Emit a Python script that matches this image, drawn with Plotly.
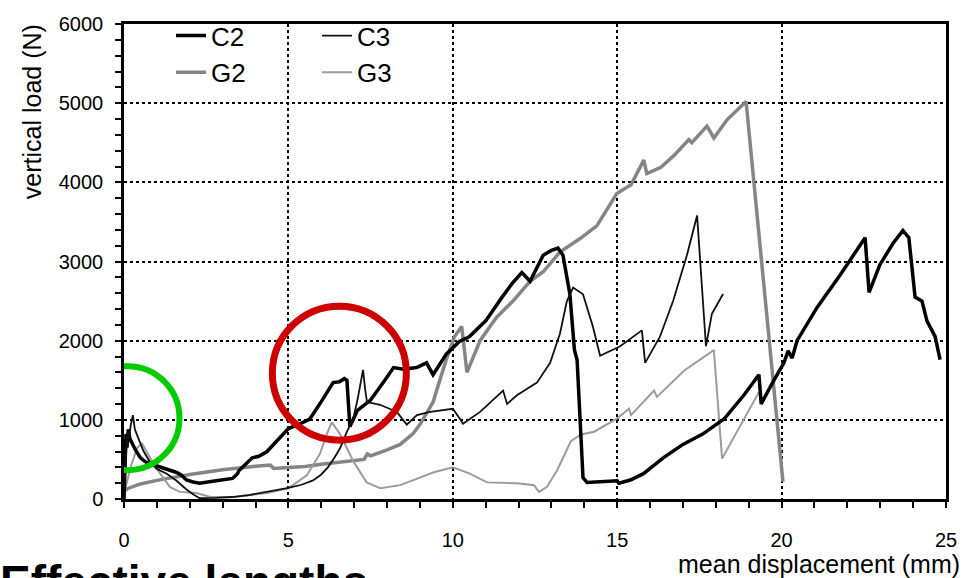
import plotly.graph_objects as go

# Load-displacement curves (mean displacement in mm, vertical load in N)
c2_x = [0.00, 0.03, 0.06, 0.09, 0.13, 0.18, 0.25, 0.35, 0.5, 0.65, 0.8, 1.0, 1.1, 1.3, 1.6, 1.75,
        1.9, 2.1, 2.3, 2.8, 3.3, 3.45, 3.5, 3.9, 4.1, 4.35, 4.7, 5.0, 5.3, 5.65, 6.0, 6.36, 6.55,
        6.7, 6.78, 6.87, 7.1, 7.5, 7.9, 8.2, 8.5, 8.9, 9.2, 9.4, 9.8, 10.2, 10.5, 11.0, 11.5, 11.8,
        12.1, 12.35, 12.75, 13.0, 13.2, 13.35, 13.56, 13.7, 13.78, 13.96, 14.08, 14.5, 15.0, 15.05,
        15.4, 15.8, 16.4, 17.0, 17.6, 18.25, 18.85, 19.31, 19.38, 19.68, 20.07, 20.2, 20.32, 20.47,
        21.08, 21.78, 22.54, 22.66, 22.99, 23.39, 23.69, 23.87, 23.97, 24.06, 24.27, 24.42, 24.67,
        24.76, 24.82]
c2_y = [0, 550, 820, 650, 880, 760, 700, 620, 520, 470, 445, 420, 400, 380, 335, 300,
        240, 215, 200, 230, 260, 320, 360, 520, 540, 600, 750, 890, 940, 1010, 1230, 1470, 1480,
        1520, 1500, 915, 1120, 1250, 1480, 1660, 1640, 1660, 1720, 1570, 1830, 1990, 2050, 2250, 2550, 2720,
        2860, 2750, 3080, 3140, 3170, 3080, 2590, 1880, 1760, 270, 210, 220, 230, 200,
        240, 320, 520, 690, 820, 1010, 1310, 1570, 1200, 1435, 1720, 1870, 1780, 2000,
        2420, 2830, 3300, 2610, 2960, 3230, 3390, 3300, 2920, 2550, 2500, 2250, 2050,
        1880, 1760]

c3_x = [0.0, 0.04, 0.08, 0.12, 0.16, 0.2, 0.27, 0.33, 0.4, 0.5, 0.6, 0.8, 1.0, 1.3, 1.6, 1.9,
        2.1, 2.3, 2.8, 3.3, 3.8, 4.35, 4.7, 5.0, 5.4, 5.75, 6.0, 6.2, 6.4, 6.57, 6.78, 6.97, 7.1,
        7.27, 7.33, 7.39, 7.79, 8.09, 8.3, 8.6, 8.91, 9.31, 9.7, 10.0, 10.22, 10.31, 10.83, 11.53,
        11.65, 11.95, 12.56, 12.96, 13.26, 13.47, 13.66, 13.96, 14.26, 14.48, 15.09, 15.75, 15.85,
        16.3, 16.7, 17.12, 17.43, 17.7, 17.88, 18.22]
c3_y = [0, 350, 700, 850, 760, 920, 1060, 880, 800, 700, 600, 460, 380, 320, 230, 120,
        60, 10, 15, 25, 50, 90, 110, 140, 180, 235, 310, 400, 520, 640, 850, 1010, 1250,
        1630, 1400, 1225, 1190, 1140, 1100, 940, 1060, 1100, 1120, 1140, 1010, 950, 1100, 1370,
        1200, 1310, 1470, 1720, 2090, 2500, 2670, 2585, 2180, 1810, 1930, 2130, 1720,
        2050, 2500, 3080, 3580, 1930, 2340, 2590]

g2_x = [0.0, 0.1, 0.5, 1.0, 2.0, 3.0, 4.0, 4.45, 4.55, 5.0, 5.5, 6.0, 6.5, 7.0, 7.3, 7.4, 7.5,
        8.0, 8.4, 8.8, 9.0, 9.4, 9.8, 10.05, 10.27, 10.43, 10.83, 11.13, 11.34, 11.83, 12.35, 12.75,
        13.26, 13.87, 14.38, 14.99, 15.42, 15.81, 15.9, 16.33, 16.73, 17.18, 17.27, 17.73, 17.94,
        18.34, 18.92, 20.04]
g2_y = [100, 130, 190, 235, 310, 370, 415, 430, 385, 395, 410, 440, 460, 480, 500, 570, 545,
        620, 690, 830, 940, 1225, 1760, 2050, 2180, 1600, 2000, 2180, 2300, 2500, 2750, 2870,
        3120, 3290, 3450, 3860, 3970, 4280, 4110, 4190, 4340, 4540, 4500, 4710, 4560,
        4790, 5020, 220]

g3_x = [0.0, 0.05, 0.2, 0.4, 0.55, 0.7, 0.85, 1.1, 1.4, 1.7, 2.2, 2.6, 3.3, 4.35, 5.0, 5.56,
        5.96, 6.15, 6.32, 6.57, 6.97, 7.38, 7.8, 8.4, 9.0, 9.4, 10.0, 10.4, 10.52, 11.04, 11.95,
        12.47, 12.62, 12.86, 13.17, 13.59, 13.9, 14.3, 14.99, 15.36, 15.42, 16.12, 16.21, 17.03,
        17.94, 18.19, 18.64, 19.31]
g3_y = [50, 150, 400, 645, 700, 580, 480, 320, 150, 90, 75, 30, 25, 75, 135, 300,
        570, 800, 970, 820, 480, 210, 135, 175, 270, 335, 400, 335, 320, 210, 200,
        175, 90, 150, 360, 730, 815, 850, 1015, 1140, 1060, 1370, 1290, 1620,
        1880, 510, 850, 1350]

FONT = "Liberation Sans, Arial, Helvetica, sans-serif"

fig = go.Figure()

series = [
    ("G2", g2_x, g2_y, "#858585", 3.5, "legend", 2),
    ("G3", g3_x, g3_y, "#9c9c9c", 2.0, "legend2", 2),
    ("C2", c2_x, c2_y, "#000000", 3.5, "legend", 1),
    ("C3", c3_x, c3_y, "#111111", 1.8, "legend2", 1),
]
for name, xs, ys, color, width, leg, rank in series:
    fig.add_trace(go.Scatter(
        x=xs, y=ys, mode="lines", name=name,
        line=dict(color=color, width=width),
        legend=leg, legendrank=rank,
    ))

axis_common = dict(
    showline=True, linecolor="black", linewidth=2.5, mirror=True,
    ticks="outside", ticklen=6, tickwidth=1.5, tickcolor="black",
    showgrid=True, gridcolor="black", gridwidth=2, griddash="3px,3px",
    zeroline=False,
    tickfont=dict(family=FONT, size=20, color="black"),
)

fig.update_xaxes(
    range=[0, 25], tickvals=[0, 5, 10, 15, 20, 25],
    minor=dict(dtick=1, ticks="outside", ticklen=6, tickwidth=1.5, tickcolor="black", showgrid=False),
    ticklabelstandoff=15,
    **axis_common,
)
fig.update_yaxes(
    range=[0, 6000], dtick=1000,
    minor=dict(dtick=200, ticks="outside", ticklen=6, tickwidth=1.5, tickcolor="black", showgrid=False),
    ticklabelstandoff=8,
    **axis_common,
)

# Highlighted regions of the response
fig.add_shape(type="circle", xref="x", yref="y", xsizemode="pixel", ysizemode="pixel",
              xanchor=0.106, yanchor=1021, x0=-52, x1=52, y0=-52, y1=52,
              line=dict(color="#00CC00", width=6), layer="above")
fig.add_shape(type="circle", xref="x", yref="y", xsizemode="pixel", ysizemode="pixel",
              xanchor=6.55, yanchor=1590, x0=-67, x1=67, y0=-67, y1=67,
              line=dict(color="#CC0000", width=7), layer="above")

fig.add_annotation(text="vertical load (N)", textangle=-90, xref="paper", yref="paper",
                   x=-0.1119, y=0.8144, xanchor="center", yanchor="middle", showarrow=False,
                   font=dict(family=FONT, size=25, color="black"))
fig.add_annotation(text="mean displacement (mm)", xref="paper", yref="paper",
                   x=1.019, y=-0.136, xanchor="right", yanchor="middle", showarrow=False,
                   font=dict(family=FONT, size=25, color="black"))
fig.add_annotation(text="<b>Effective lengths</b>", xref="paper", yref="paper",
                   x=-0.153, y=-0.1155, xanchor="left", yanchor="top", showarrow=False,
                   font=dict(family=FONT, size=46, color="black"))

legend_common = dict(
    orientation="v", bgcolor="rgba(0,0,0,0)", borderwidth=0,
    font=dict(family=FONT, size=26, color="black"),
    yanchor="top", xanchor="left", traceorder="normal",
)
fig.update_layout(
    width=968, height=578,
    margin=dict(l=124, r=22, t=14, b=79),
    paper_bgcolor="white", plot_bgcolor="white",
    showlegend=True,
    legend=dict(x=0.0572, y=1.025, **legend_common),
    legend2=dict(x=0.2348, y=1.025, **legend_common),
)

fig.write_html("out.html")
